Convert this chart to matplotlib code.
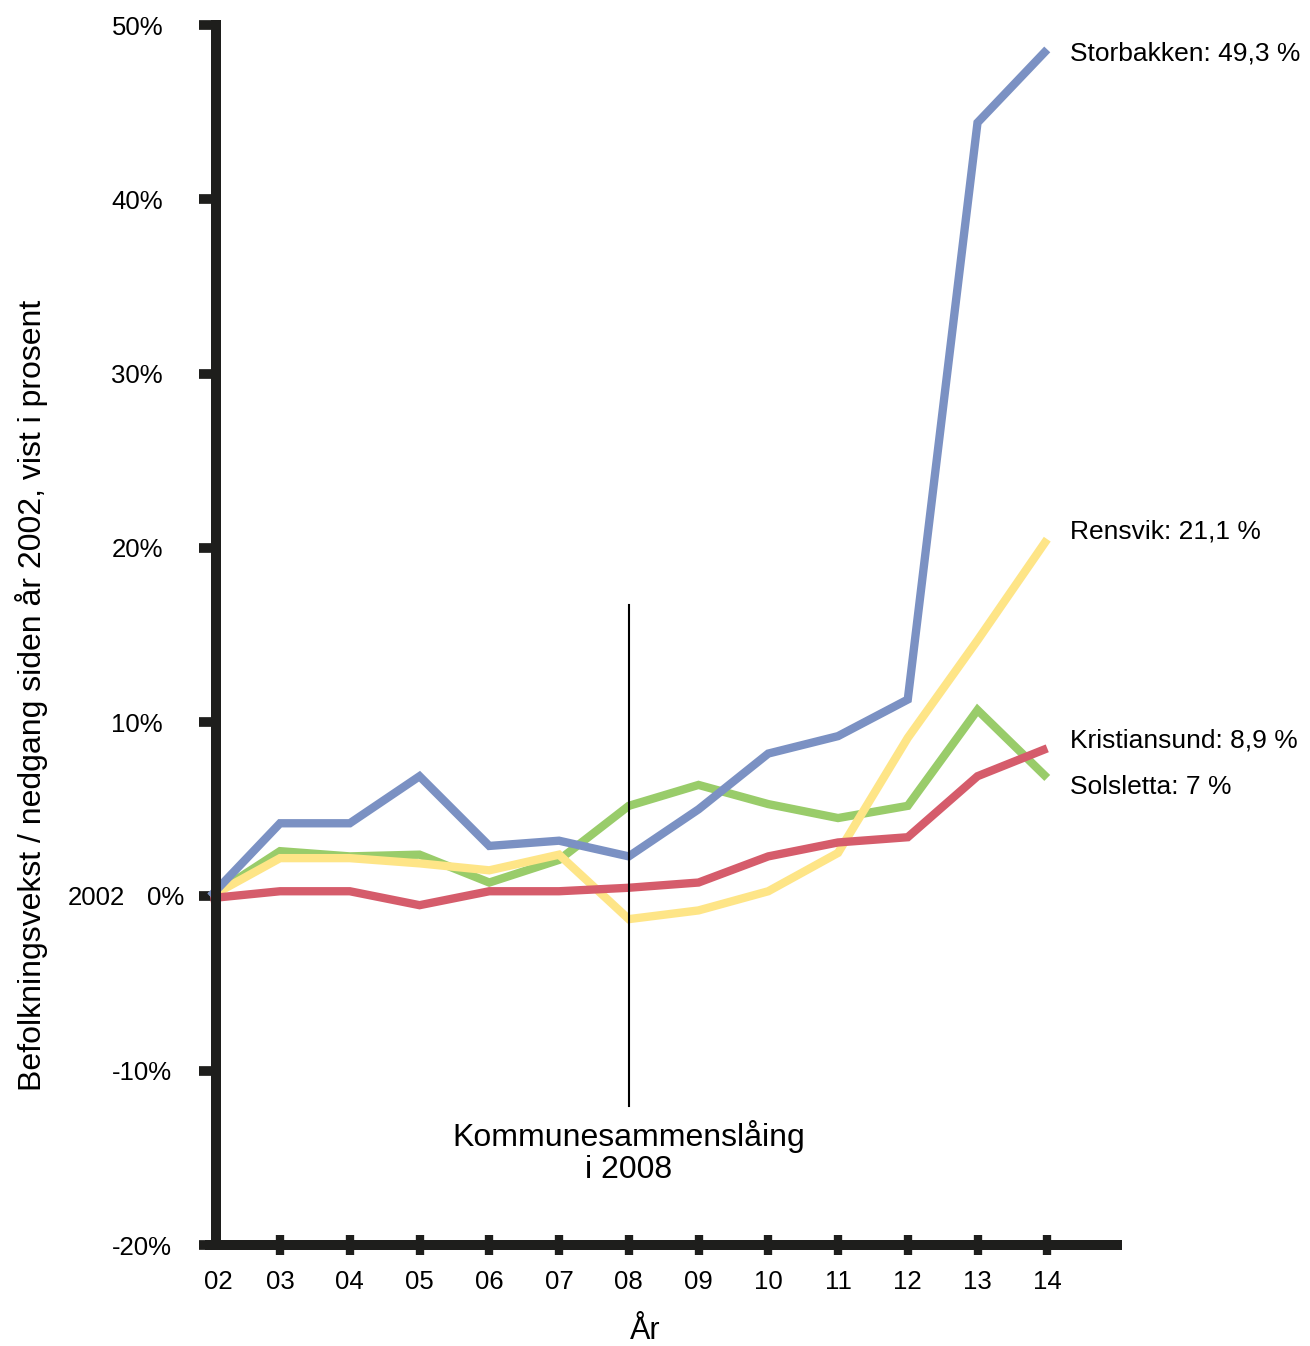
"""
Befolkningsvekst / nedgang siden 2002 for fire steder, vist i prosent.
"""
import matplotlib
matplotlib.use("Agg")
import matplotlib.pyplot as plt

plt.rcParams['font.family'] = ['Liberation Sans', 'DejaVu Sans']

# Data
years = [2002, 2003, 2004, 2005, 2006, 2007, 2008, 2009, 2010, 2011, 2012, 2013, 2014]
year_labels = ['02', '03', '04', '05', '06', '07', '08', '09', '10', '11', '12', '13', '14']

storbakken = [0.0, 4.2, 4.2, 6.9, 2.9, 3.2, 2.3, 5.0, 8.2, 9.2, 11.3, 44.4, 48.6]
rensvik = [0.0, 2.2, 2.2, 1.9, 1.5, 2.4, -1.3, -0.8, 0.3, 2.5, 9.1, 14.7, 20.5]
solsletta = [0.0, 2.6, 2.3, 2.4, 0.8, 2.1, 5.2, 6.4, 5.3, 4.5, 5.2, 10.7, 6.8]
kristiansund = [-0.1, 0.3, 0.3, -0.5, 0.3, 0.3, 0.5, 0.8, 2.3, 3.1, 3.4, 6.9, 8.5]

series_labels = ['Storbakken: 49,3 %', 'Rensvik: 21,1 %', 'Kristiansund: 8,9 %', 'Solsletta: 7 %']

y_ticks = [-20, -10, 0, 10, 20, 30, 40, 50]
y_tick_labels = ['-20%', '-10%', '', '10%', '20%', '30%', '40%', '50%']

merger_year = 2008

fig = plt.figure(figsize=(13.1, 13.46), dpi=100)
ax = fig.add_axes([210.3 / 1310, 0.0750, 906.7 / 1310, 0.9064])

lw = 6
# drawing order: green, yellow, red, blue
ax.plot(years, solsletta, color='#99cc6a', lw=lw, solid_joinstyle='miter', solid_capstyle='butt', clip_on=False)
ax.plot(years, rensvik, color='#fee587', lw=lw, solid_joinstyle='miter', solid_capstyle='butt', clip_on=False)
ax.plot(years, kristiansund, color='#d55c6b', lw=lw, solid_joinstyle='miter', solid_capstyle='butt', clip_on=False)
ax.plot(years, storbakken, color='#7b91c3', lw=lw, solid_joinstyle='miter', solid_capstyle='butt', clip_on=False)

# merger marker
ax.plot([merger_year, merger_year], [-12.0, 16.7], color='black', lw=1.5)
ax.text(merger_year, -14.7, 'Kommunesammenslåing\ni 2008', ha='center', va='center',
        fontsize=23, linespacing=1.1)

# end labels
label_offsets = [-4, 8, 8, -9]
ends = [storbakken[-1], rensvik[-1], kristiansund[-1], solsletta[-1]]
for lab, yv, dy in zip(series_labels, ends, label_offsets):
    ax.annotate(lab, xy=(years[-1], yv), xytext=(23, dy), textcoords='offset pixels',
                ha='left', va='center', fontsize=19, annotation_clip=False)

ax.set_xlim(2002, 2015)
ax.set_ylim(-20, 50)

for s in ['top', 'right']:
    ax.spines[s].set_visible(False)
for s in ['left', 'bottom']:
    ax.spines[s].set_linewidth(7.2)
    ax.spines[s].set_color('#1e1e1c')
    ax.spines[s].set_capstyle('projecting')
ax.spines['left'].set_position(('data', 2002.08))

ax.set_xticks(years[1:])
ax.set_xticklabels(year_labels[1:], fontsize=18.5)
ax.tick_params(axis='x', direction='inout', length=13.7, width=6, color='#1e1e1c', pad=11)
# label for 02 sits under the y axis
ax.annotate(year_labels[0], xy=(years[0], -20), xytext=(8, -37), textcoords='offset pixels',
            ha='center', va='center', fontsize=18.5, annotation_clip=False)

ax.set_yticks(y_ticks)
ax.set_yticklabels(y_tick_labels, fontsize=18.5, ha='left')
ax.tick_params(axis='y', direction='out', length=12.2, width=7, color='#1e1e1c', pad=63)

ax.annotate('2002', xy=(years[0], 0), xytext=(-85, -2), textcoords='offset pixels',
            ha='right', va='center', fontsize=18.5, annotation_clip=False)
ax.annotate('0%', xy=(years[0], 0), xytext=(-63, -2), textcoords='offset pixels',
            ha='left', va='center', fontsize=18.5, annotation_clip=False)

ax.set_xlabel('År', fontsize=22, x=(645 - 210.3) / 906.7, labelpad=16)
fig.text(32 / 1310, 1 - 695 / 1346, 'Befolkningsvekst / nedgang siden år 2002, vist i prosent',
         rotation=90, ha='center', va='center', fontsize=23)

fig.savefig('out.png', dpi=100)
